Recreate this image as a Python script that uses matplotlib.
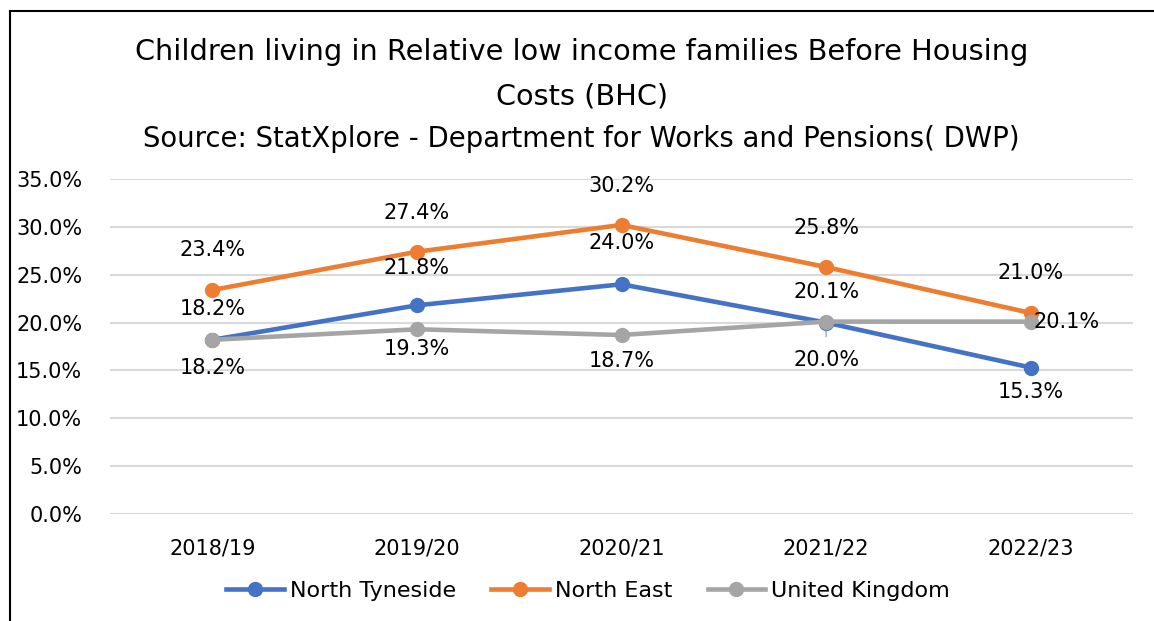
import matplotlib
matplotlib.use("Agg")
import matplotlib.pyplot as plt
from matplotlib.lines import Line2D

plt.rcParams["font.family"] = ["DejaVu Sans"]

YEARS = ["2018/19", "2019/20", "2020/21", "2021/22", "2022/23"]
NORTH_TYNESIDE = [18.2, 21.8, 24.0, 20.0, 15.3]
NORTH_EAST = [23.4, 27.4, 30.2, 25.8, 21.0]
UNITED_KINGDOM = [18.2, 19.3, 18.7, 20.1, 20.1]

# label offsets in pixels (dx, dy) relative to each point
OFF_NT = [(0, 31), (0, 37), (0, 41), (0, -37), (0, -24)]
OFF_NE = [(0, 40), (0, 39), (0, 39), (0, 39), (0, 40)]
OFF_UK = [(0, -28), (0, -20), (0, -26), (0, 30), (36, 0)]

COLORS = {"nt": "#4472C4", "ne": "#ED7D31", "uk": "#A5A5A5"}

W, H, DPI = 1154, 621, 100
fig = plt.figure(figsize=(W / DPI, H / DPI), dpi=DPI, facecolor="white")
ax = fig.add_axes([110 / W, 1 - 514 / H, (1133 - 110) / W, (514 - 179) / H])

x = list(range(len(YEARS)))
series = [
    ("North Tyneside", NORTH_TYNESIDE, COLORS["nt"], OFF_NT),
    ("North East", NORTH_EAST, COLORS["ne"], OFF_NE),
    ("United Kingdom", UNITED_KINGDOM, COLORS["uk"], OFF_UK),
]
for name, vals, col, offs in series:
    ax.plot(x, vals, color=col, lw=3.3, marker="o", ms=10, label=name, zorder=3)

for name, vals, col, offs in series:
    for xi, v, (dx, dy) in zip(x, vals, offs):
        ax.annotate(f"{v:.1f}%", (xi, v), xytext=(dx, dy), textcoords="offset pixels",
                    ha="center", va="center", fontsize=15, color="#000000", zorder=5)

# leader line for the 2021/22 North Tyneside label
ax.annotate("", (3, NORTH_TYNESIDE[3]), xytext=(0, -17), textcoords="offset pixels",
            arrowprops=dict(arrowstyle="-", color="#A5A5A5", lw=1), zorder=2)

ax.set_xlim(-0.5, 4.5)
ax.set_ylim(0, 35)
ax.set_yticks(range(0, 36, 5))
ax.set_yticklabels([f"{t:.1f}%" for t in range(0, 36, 5)])
ax.set_xticks(x)
ax.set_xticklabels(YEARS)
ax.tick_params(axis="both", length=0, labelsize=15, colors="#000000")
ax.tick_params(axis="y", pad=20)
ax.tick_params(axis="x", pad=18)
ax.grid(axis="y", color="#D9D9D9", lw=1.5)
ax.set_axisbelow(True)
for s in ax.spines.values():
    s.set_visible(False)

fig.text(582 / W, 1 - 52 / H, "Children living in Relative low income families Before Housing",
         ha="center", va="center", fontsize=20.7, color="#000000")
fig.text(582 / W, 1 - 97 / H, "Costs (BHC)", ha="center", va="center", fontsize=20.7, color="#000000")
fig.text(581 / W, 1 - 139 / H, "Source: StatXplore - Department for Works and Pensions( DWP)",
         ha="center", va="center", fontsize=19.8, color="#000000")

handles = [Line2D([], [], color=c, lw=3.3, marker="o", ms=10) for _, _, c, _ in series]
fig.legend(handles, [s[0] for s in series], loc="center", bbox_to_anchor=(588 / W, 1 - 591 / H),
           ncol=3, frameon=False, fontsize=16, handlelength=2.6, handletextpad=0.25,
           columnspacing=1.6)

# chart border (left and top edges visible)
fig.add_artist(Line2D([10 / W, 10 / W], [0, 1 - 11 / H], color="black", lw=1.5))
fig.add_artist(Line2D([10 / W, 1], [1 - 11 / H, 1 - 11 / H], color="black", lw=1.5))

fig.savefig("out.png", dpi=DPI, facecolor="white")
